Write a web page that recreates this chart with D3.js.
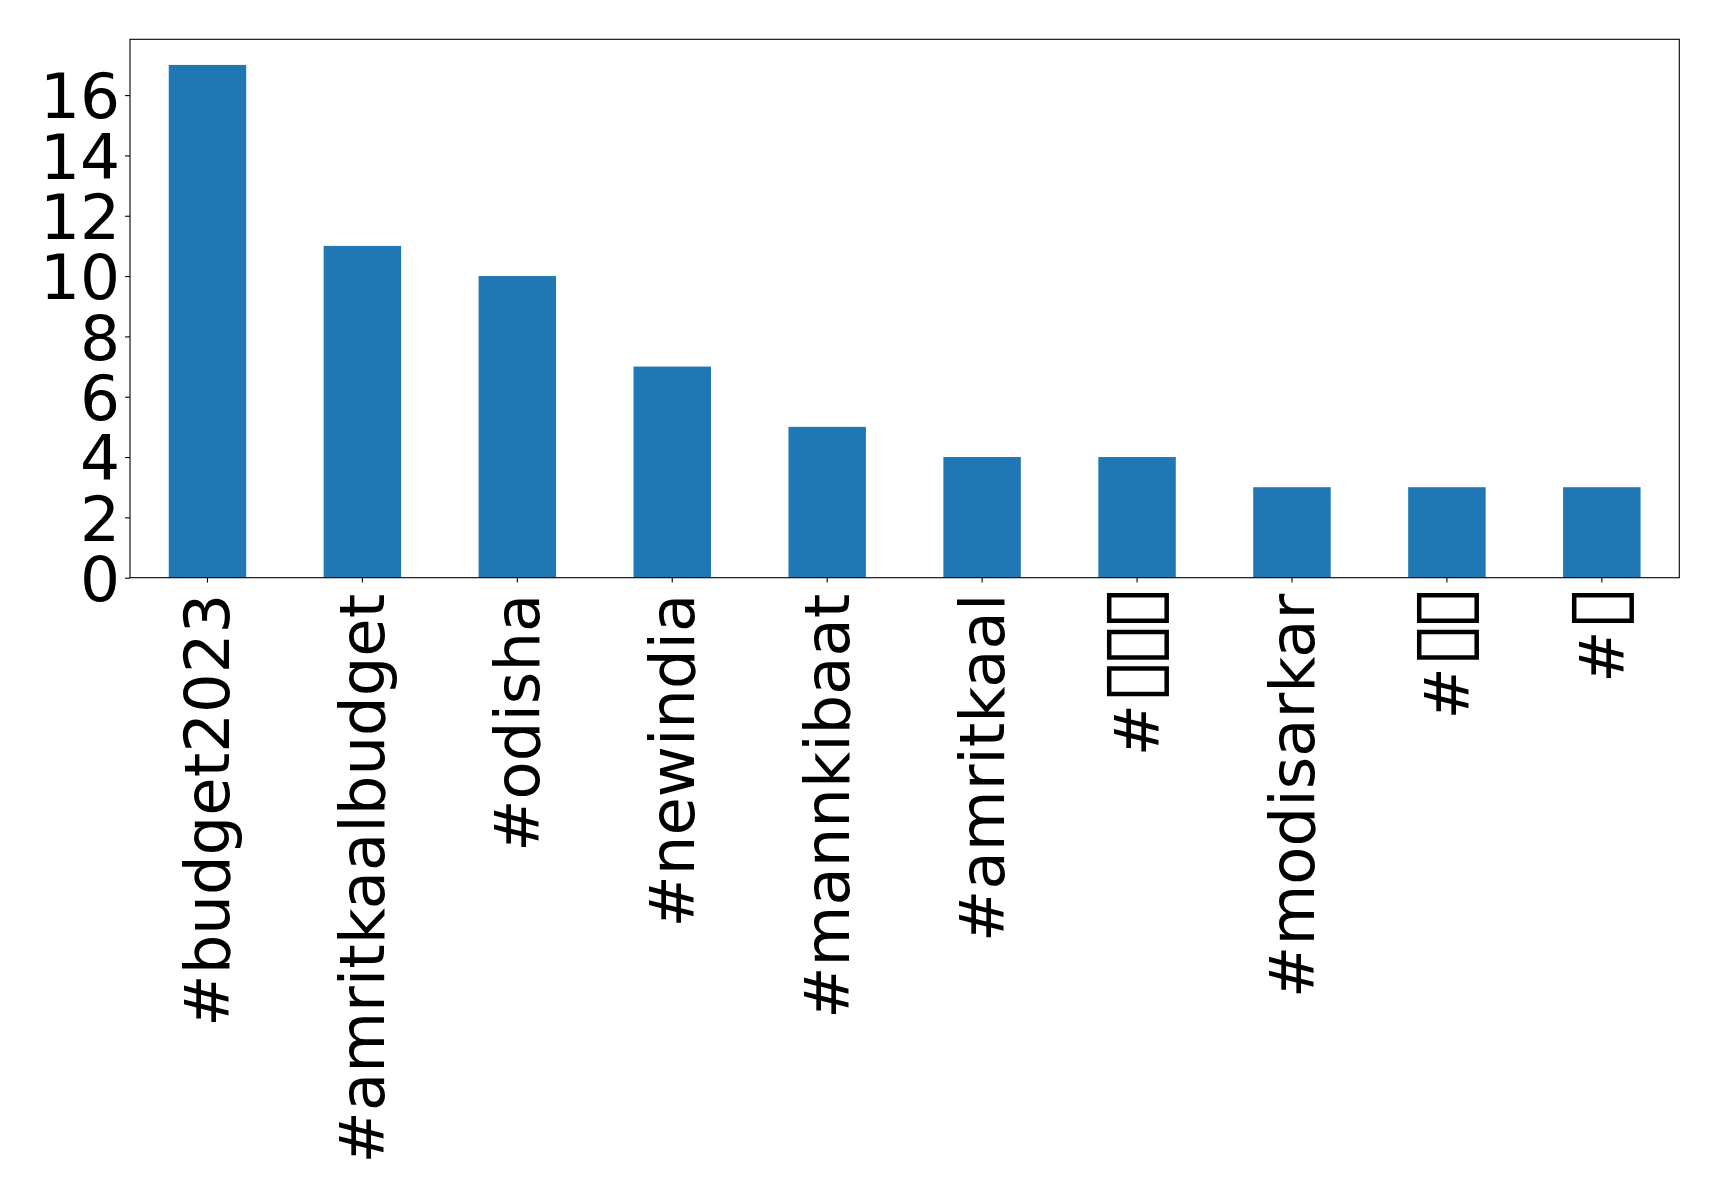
<!DOCTYPE html>
<html><head><meta charset="utf-8">
<script src="https://cdn.jsdelivr.net/npm/d3@7"></script>
<style>body{margin:0;background:#fff}</style>
</head><body>
<svg id="c" width="1719" height="1197"></svg>
<script>
const categories = ["#budget2023","#amritkaalbudget","#odisha","#newindia","#mannkibaat","#amritkaal","#\u25AF\u25AF\u25AF","#modisarkar","#\u25AF\u25AF","#\u25AF"];
const values = [17, 11, 10, 7, 5, 4, 4, 3, 3, 3];
const yTicks = [0, 2, 4, 6, 8, 10, 12, 14, 16];

const L = 130, T = 39.3, R = 1679.3, B = 577.7;
const fs = 63;
const svg = d3.select("#c");
const x = d3.scaleBand().domain(categories).range([L, R]).paddingInner(0.5).paddingOuter(0.25);
const y = d3.scaleLinear().domain([0, 17 * 1.05]).range([B, T]);

svg.append("g").selectAll("rect").data(values).join("rect")
  .attr("x", (d, i) => x(categories[i]))
  .attr("width", x.bandwidth())
  .attr("y", d => y(d))
  .attr("height", d => B - y(d))
  .attr("fill", "#1f77b4");

const ya = svg.append("g").attr("transform", `translate(${L},0)`)
  .call(d3.axisLeft(y).tickValues(yTicks).tickSize(4.9).tickPadding(4.9));
ya.select(".domain").remove();
ya.selectAll("line").attr("stroke", "#000").attr("stroke-width", 1.1);
ya.selectAll("text").attr("font-family", "DejaVu Sans").attr("font-size", fs).attr("fill", "#000")
  .attr("dy", "0.36em");

const xa = svg.append("g").attr("transform", `translate(0,${B})`)
  .call(d3.axisBottom(x).tickSize(4.9).tickPadding(0));
xa.select(".domain").remove();
xa.selectAll("line").attr("stroke", "#000").attr("stroke-width", 1.1);
xa.selectAll("text").attr("font-family", "DejaVu Sans").attr("font-size", 62.5).attr("fill", "#000")
  .attr("transform", "translate(0,16) rotate(-90)")
  .attr("text-anchor", "end").attr("x", 0).attr("y", 0).attr("dy", "0.35em")
  .each(function(d) {
    const t = d3.select(this);
    t.text(null);
    const parts = d.match(/[\u25AF]+|[^\u25AF]+/g);
    parts.forEach(p => {
      const s = t.append("tspan").text(p);
      if (p[0] === "\u25AF") s.attr("font-size", 62.5 * 1.3).attr("letter-spacing", -8);
    });
  });

svg.append("rect").attr("x", L).attr("y", T).attr("width", R - L).attr("height", B - T)
  .attr("fill", "none").attr("stroke", "#000").attr("stroke-width", 1.1);
</script>
</body></html>
